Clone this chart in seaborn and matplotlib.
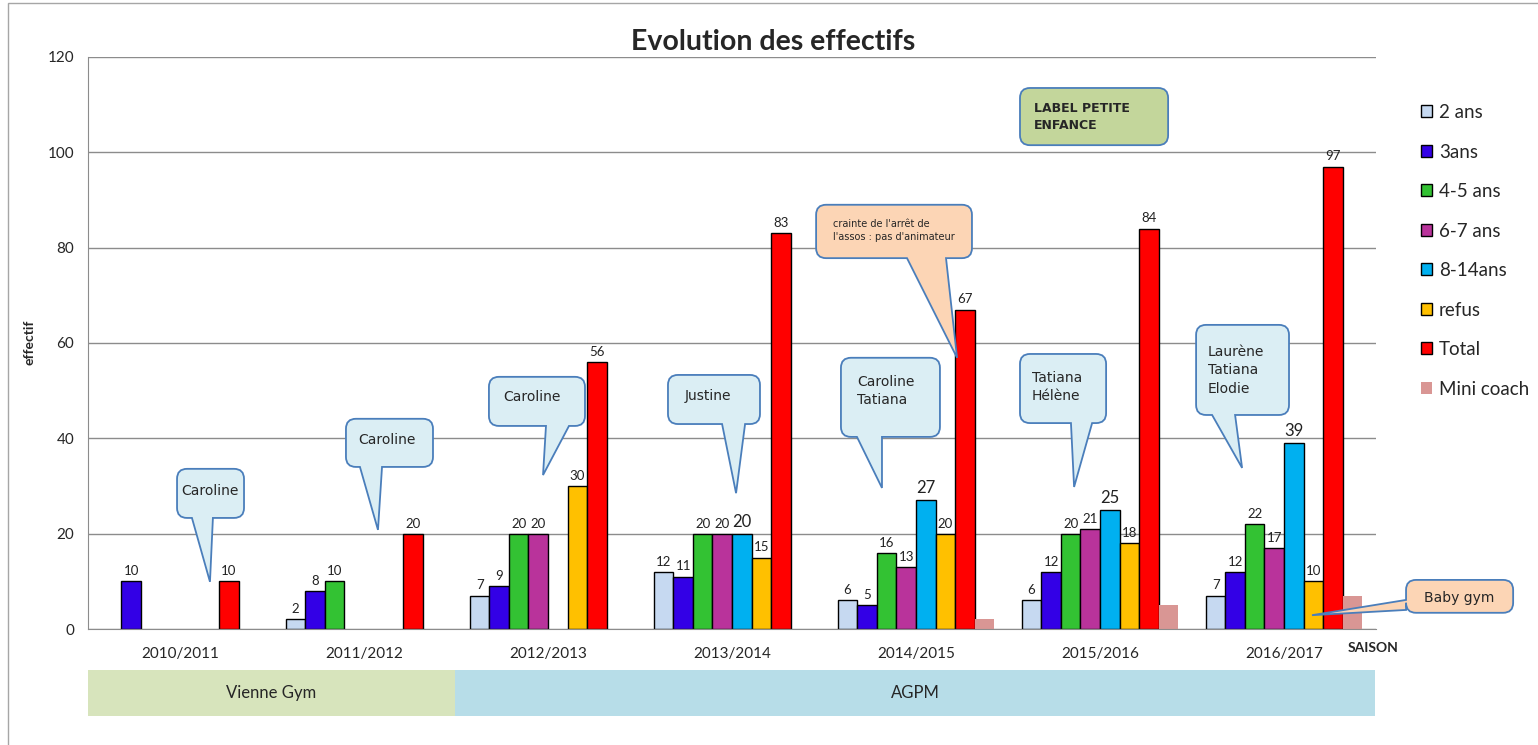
# plot.py - Evolution des effectifs

import numpy as np
import pandas as pd
import matplotlib
matplotlib.use("Agg")
import matplotlib.pyplot as plt
import matplotlib.transforms as mtransforms
from matplotlib.path import Path
from matplotlib.patches import PathPatch, Patch, Rectangle
import seaborn as sns

seasons = ["2010/2011", "2011/2012", "2012/2013", "2013/2014",
           "2014/2015", "2015/2016", "2016/2017"]
groups = ["2 ans", "3ans", "4-5 ans", "6-7 ans", "8-14ans", "refus", "Total", "Mini coach"]

ans2 = [0, 2, 7, 12, 6, 6, 7]
ans3 = [10, 8, 9, 11, 5, 12, 12]
ans4_5 = [0, 10, 20, 20, 16, 20, 22]
ans6_7 = [0, 0, 20, 20, 13, 21, 17]
ans8_14 = [0, 0, 0, 20, 27, 25, 39]
refus = [0, 0, 30, 15, 20, 18, 10]
total = [10, 20, 56, 83, 67, 84, 97]
mini_coach = [0, 0, 0, 0, 2, 5, 7]

colors = ["#c6d9f1", "#3300e6", "#33c233", "#b9339b",
          "#00b0f0", "#ffc000", "#ff0000", "#d99694"]

clubs = ["Vienne Gym", "AGPM"]

# long-form table, zero values are not drawn
series = [ans2, ans3, ans4_5, ans6_7, ans8_14, refus, total, mini_coach]
rows = []
for g, vals in zip(groups, series):
    for s, v in zip(seasons, vals):
        if v > 0:
            rows.append({"saison": s, "groupe": g, "effectif": v})
df = pd.DataFrame(rows)

sns.set_style("white")
plt.rcParams["font.family"] = ["Lato", "DejaVu Sans"]

fig = plt.figure(figsize=(15.38, 7.45), dpi=100)
ax = fig.add_axes([0.0572, 0.1557, 0.8375, 0.7678])

sns.barplot(data=df, x="saison", y="effectif", hue="groupe", order=seasons,
            hue_order=groups, palette=colors, saturation=1, width=0.85,
            edgecolor="black", linewidth=1, errorbar=None, legend=False, ax=ax)

# value labels (no label on Mini coach)
for g, cont in zip(groups, ax.containers):
    if g == "Mini coach":
        for p in cont.patches:
            p.set_edgecolor("none")
        continue
    size = 12 if g == "8-14ans" else 9.5
    ax.bar_label(cont, fmt="%d", padding=3, fontsize=size, color="#222222")

ax.set_xlim(-0.5, 6.5)
ax.set_ylim(0, 120)
ax.set_yticks(np.arange(0, 121, 20))
ax.yaxis.grid(True, color="#8c8c8c", lw=1)
ax.set_axisbelow(True)
for side in ["top", "right"]:
    ax.spines[side].set_visible(False)
for side in ["left", "bottom"]:
    ax.spines[side].set_color("#8c8c8c")
ax.set_xlabel("")
ax.set_ylabel("")
ax.set_xticks(np.arange(-0.5, 7, 1), minor=True)
ax.tick_params(axis="x", which="major", length=0, pad=13, labelsize=11)
ax.tick_params(axis="x", which="minor", length=7, color="#8c8c8c", direction="out")
ax.tick_params(axis="y", length=5, color="#8c8c8c", labelsize=11, pad=5)

ax.text(0.9977, -0.033, "SAISON", transform=ax.transAxes, ha="center", va="center",
        fontsize=10, fontweight="bold")
fig.text(0.0195, 0.54, "effectif", rotation=90, ha="center", va="center",
         fontsize=10, fontweight="bold")
fig.text(0.5026, 0.9436, "Evolution des effectifs", ha="center", va="center",
         fontsize=20.5, fontweight="bold")

# club bands under the seasons
trans = mtransforms.blended_transform_factory(ax.transData, ax.transAxes)
band_spans = [(-0.5, 1.495), (1.495, 6.495)]
band_colors = ["#d7e4bc", "#b7dde8"]
for name, (x0, x1), c in zip(clubs, band_spans, band_colors):
    ax.add_patch(Rectangle((x0, -0.152), x1 - x0, 0.08, transform=trans,
                           facecolor=c, edgecolor="none", clip_on=False))
    ax.text((x0 + x1) / 2, -0.112, name, transform=trans, ha="center", va="center",
            fontsize=12)

# legend
handles = [Patch(facecolor=c, edgecolor="black" if g != "Mini coach" else "none", lw=1)
           for g, c in zip(groups, colors)]
fig.legend(handles, groups, loc="upper left", bbox_to_anchor=(0.913, 0.883),
           frameon=False, fontsize=13.5, labelspacing=1.2, handlelength=0.6,
           handleheight=0.6, handletextpad=0.35)


def callout(box, text, text_xy, fc, tip=None, base=None, side="bottom",
            fontsize=10, weight="normal", ha="center"):
    x0, x1, y0, y1 = box
    X0, Y0 = ax.transData.transform((x0, y0))
    X1, Y1 = ax.transData.transform((x1, y1))
    r = 10
    verts = [(X0 + r, Y1), (X1 - r, Y1), (X1, Y1), (X1, Y1 - r), (X1, Y0 + r),
             (X1, Y0), (X1 - r, Y0)]
    codes = [Path.MOVETO, Path.LINETO, Path.CURVE3, Path.CURVE3, Path.LINETO,
             Path.CURVE3, Path.CURVE3]
    if tip is not None and side == "bottom":
        T = ax.transData.transform(tip)
        B0 = ax.transData.transform((base[0], y0))[0]
        B1 = ax.transData.transform((base[1], y0))[0]
        verts += [(B1, Y0), tuple(T), (B0, Y0)]
        codes += [Path.LINETO] * 3
    verts += [(X0 + r, Y0), (X0, Y0), (X0, Y0 + r)]
    codes += [Path.LINETO, Path.CURVE3, Path.CURVE3]
    if tip is not None and side == "left":
        T = ax.transData.transform(tip)
        B0 = ax.transData.transform((x0, base[0]))[1]
        B1 = ax.transData.transform((x0, base[1]))[1]
        verts += [(X0, B0), tuple(T), (X0, B1)]
        codes += [Path.LINETO] * 3
    verts += [(X0, Y1 - r), (X0, Y1), (X0 + r, Y1), (X0 + r, Y1)]
    codes += [Path.LINETO, Path.CURVE3, Path.CURVE3, Path.CLOSEPOLY]
    patch = PathPatch(Path(verts, codes), facecolor=fc, edgecolor="#4a7ebb", lw=1.3,
                      transform=mtransforms.IdentityTransform(), zorder=5)
    fig.add_artist(patch)
    fig.text(text_xy[0], text_xy[1], text, transform=ax.transData, ha=ha, va="center",
             fontsize=fontsize, fontweight=weight, zorder=6, linespacing=1.4,
             family=["DejaVu Sans"])


blue_fc = "#dbeef4"
peach_fc = "#fcd5b5"
callout((-0.016, 0.348, 23.3, 33.6), "Caroline", (0.163, 29.0), blue_fc,
        tip=(0.163, 9.9), base=(0.065, 0.179))
callout((0.902, 1.375, 34.0, 44.1), "Caroline", (1.125, 39.7), blue_fc,
        tip=(1.076, 20.8), base=(0.978, 1.098))
callout((1.679, 2.201, 42.6, 52.9), "Caroline", (1.913, 48.7), blue_fc,
        tip=(1.973, 32.3), base=(1.989, 2.114))
callout((2.652, 3.152, 43.0, 53.3), "Justine", (2.870, 48.9), blue_fc,
        tip=(3.022, 28.5), base=(2.946, 3.071))
callout((3.592, 4.130, 40.3, 56.9), "Caroline\nTatiana", (3.679, 49.9), blue_fc,
        tip=(3.815, 29.6), base=(3.679, 3.815), ha="left")
callout((4.565, 5.033, 43.2, 57.7), "Tatiana\nHélène", (4.630, 50.8), blue_fc,
        tip=(4.859, 29.8), base=(4.842, 4.957), ha="left")
callout((5.522, 6.027, 44.9, 63.8), "Laurène\nTatiana\nElodie", (5.587, 54.3), blue_fc,
        tip=(5.772, 33.8), base=(5.609, 5.734), ha="left")
callout((3.457, 4.304, 77.8, 89.0), "crainte de l'arrêt de\nl'assos : pas d'animateur",
        (3.550, 83.6), peach_fc, tip=(4.223, 56.9), base=(3.951, 4.163),
        fontsize=7, ha="left")
callout((6.663, 7.245, 3.4, 10.3), "Baby gym", (6.95, 6.6), peach_fc,
        tip=(6.152, 2.9), base=(4.0, 6.1), side="left")
callout((4.565, 5.370, 101.5, 113.5), "LABEL PETITE\nENFANCE", (4.641, 107.4),
        "#c3d69b", fontsize=9, weight="bold", ha="left")

# outer frame
fig.add_artist(Rectangle((8 / 1538, -0.01), 1.0, 1.0 - 3 / 745 + 0.01,
                         transform=fig.transFigure, fill=False,
                         edgecolor="#a6a6a6", lw=1))

fig.savefig("out.png", dpi=100)
